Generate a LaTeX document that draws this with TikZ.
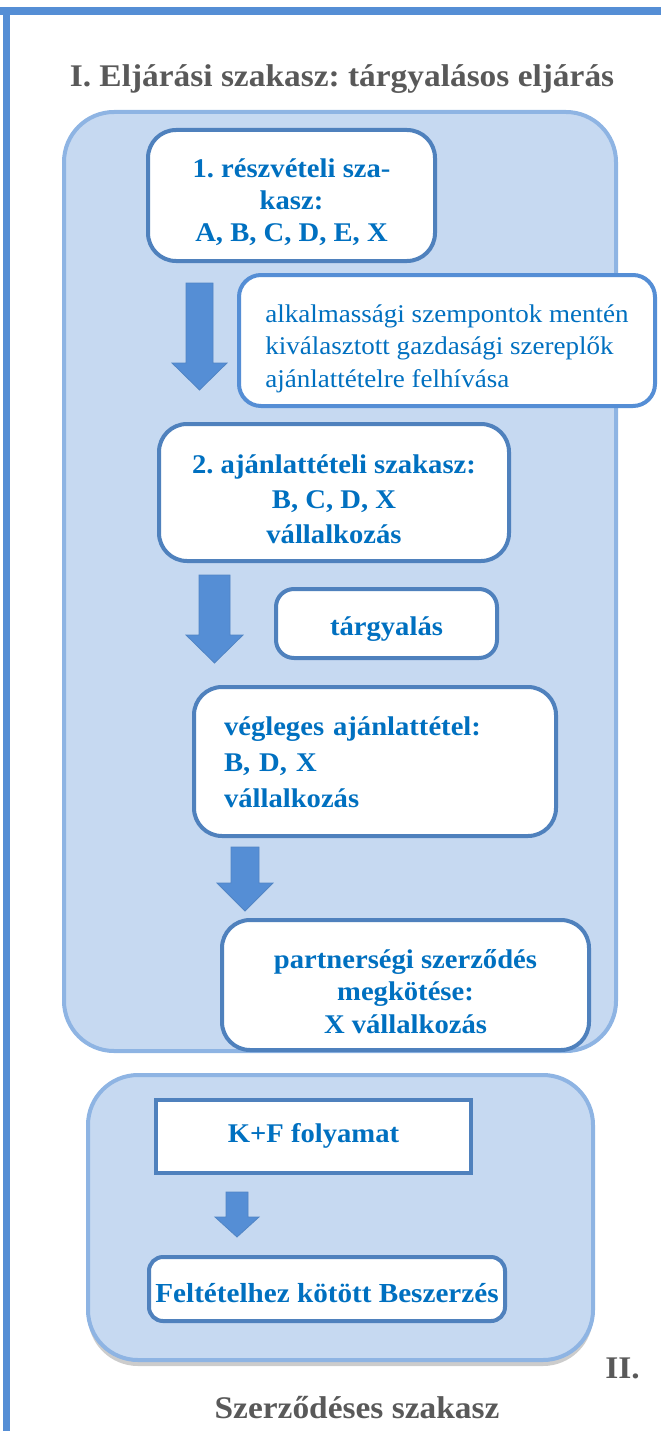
\documentclass[tikz,border=0pt]{standalone}
\usepackage{fontspec}
\setmainfont[FakeStretch=1.06]{Liberation Serif}
\usetikzlibrary{shadows}

\definecolor{panelfill}{HTML}{C6D9F1}
\definecolor{paneledge}{HTML}{8EB4E3}
\definecolor{boxedge}{HTML}{4F81BD}
\definecolor{brightedge}{HTML}{558ED5}
\definecolor{arrowblue}{HTML}{558ED5}
\definecolor{textblue}{HTML}{0070C0}
\definecolor{headgray}{HTML}{595959}

\tikzset{
  panel/.style={draw=paneledge, fill=panelfill, line width=4pt, rounded corners=50pt, inner sep=0pt},
  stagebox/.style={draw=boxedge, fill=white, line width=4pt, rounded corners=28pt, text=textblue,
    font=\frenchspacing\bfseries\fontsize{27}{32}\selectfont, align=center, inner sep=0pt},
  skip/.style={font=\frenchspacing\bfseries\fontsize{27}{#1}\selectfont},
  heading/.style={text=headgray, font=\frenchspacing\bfseries\fontsize{31.5}{36}\selectfont, inner sep=0pt},
  flowarrow/.style={fill=arrowblue, draw=boxedge!70!arrowblue, line width=0.8pt}
}

% x, top, neck, tip, half shaft, half head
\newcommand{\blockarrow}[6]{%
  \draw[flowarrow] ({#1-#5},#2) -- ({#1+#5},#2) -- ({#1+#5},#3) -- ({#1+#6},#3) -- (#1,#4)
    -- ({#1-#6},#3) -- ({#1-#5},#3) -- cycle;}

\begin{document}
\begin{tikzpicture}[x=1pt, y=-1pt]
\useasboundingbox (0,0) rectangle (661,1431);
\fill[arrowblue] (0,7) rectangle (661,15);
\fill[arrowblue] (3,15) rectangle (10,1431);

\node[heading, anchor=base] (phaseonetitle) at (342,87) {I. Eljárási szakasz: tárgyalásos eljárás};
\node[panel, minimum width=552pt, minimum height=939pt] (phaseone) at (340,581.5) {};

\node[stagebox, text height=99pt, text depth=6pt, minimum width=287pt, minimum height=131pt] (partbox)
  at (291.5,195.5) {1. részvételi sza-\\kasz:\\A, B, C, D, E, X};
\blockarrow{199.5}{283}{363}{390}{13.5}{27.5}
\node[stagebox, draw=brightedge, font=\frenchspacing\fontsize{25.5}{32.5}\selectfont, align=left,
  text height=99pt, text depth=6pt, minimum width=416pt, minimum height=131pt, rounded corners=22pt]
  (invitebox) at (447,340.5)
  {alkalmassági szempontok mentén\\kiválasztott gazdasági szereplők\\ajánlattételre felhívása};

\node[stagebox, skip=35, text height=107pt, text depth=6pt, minimum width=350pt, minimum height=137pt]
  (offerbox) at (334,492.5) {2. ajánlattételi szakasz:\\B, C, D, X\\vállalkozás};
\blockarrow{214.5}{575}{635}{663}{15.5}{28.5}
\node[stagebox, text height=29pt, text depth=6pt, minimum width=221pt, minimum height=69pt,
  rounded corners=18pt] (negobox) at (386.5,623.5) {tárgyalás};

\node[stagebox, skip=36, align=left, text width=302pt, inner xsep=30pt, text height=25pt, text depth=78pt,
  minimum height=149pt] (finalbox) at (375,761.5) {végleges ajánlattétel:\\B, D, X\\vállalkozás};
\blockarrow{245}{847}{883}{911}{14}{28}
\node[stagebox, skip=32.5, text height=102pt, text depth=6pt, minimum width=367pt, minimum height=130pt]
  (contractbox) at (405.5,985) {partnerségi szerződés\\megkötése:\\X vállalkozás};

% second phase
\node[panel, drop shadow={shadow xshift=0pt, shadow yshift=-6pt, opacity=0.2, fill=black},
  minimum width=505pt, minimum height=285pt] (phasetwo) at (340.5,1217.5) {};
\node[stagebox, rounded corners=0pt, text height=17pt, text depth=6pt, minimum width=315pt,
  minimum height=73pt] (rdbox) at (313.5,1136.5) {K+F folyamat};
\blockarrow{237}{1192}{1217}{1237}{11}{22}
\node[stagebox, font=\frenchspacing\bfseries\fontsize{27.5}{32}\selectfont, rounded corners=14pt,
  text height=32pt, text depth=6pt, minimum width=356pt, minimum height=64pt] (procbox) at (327,1289)
  {Feltételhez kötött Beszerzés};

\node[heading, anchor=base east] (phasetwonum) at (640,1378) {II.};
\node[heading, anchor=base] (phasetwotitle) at (357,1418) {Szerződéses szakasz};
\end{tikzpicture}
\end{document}
